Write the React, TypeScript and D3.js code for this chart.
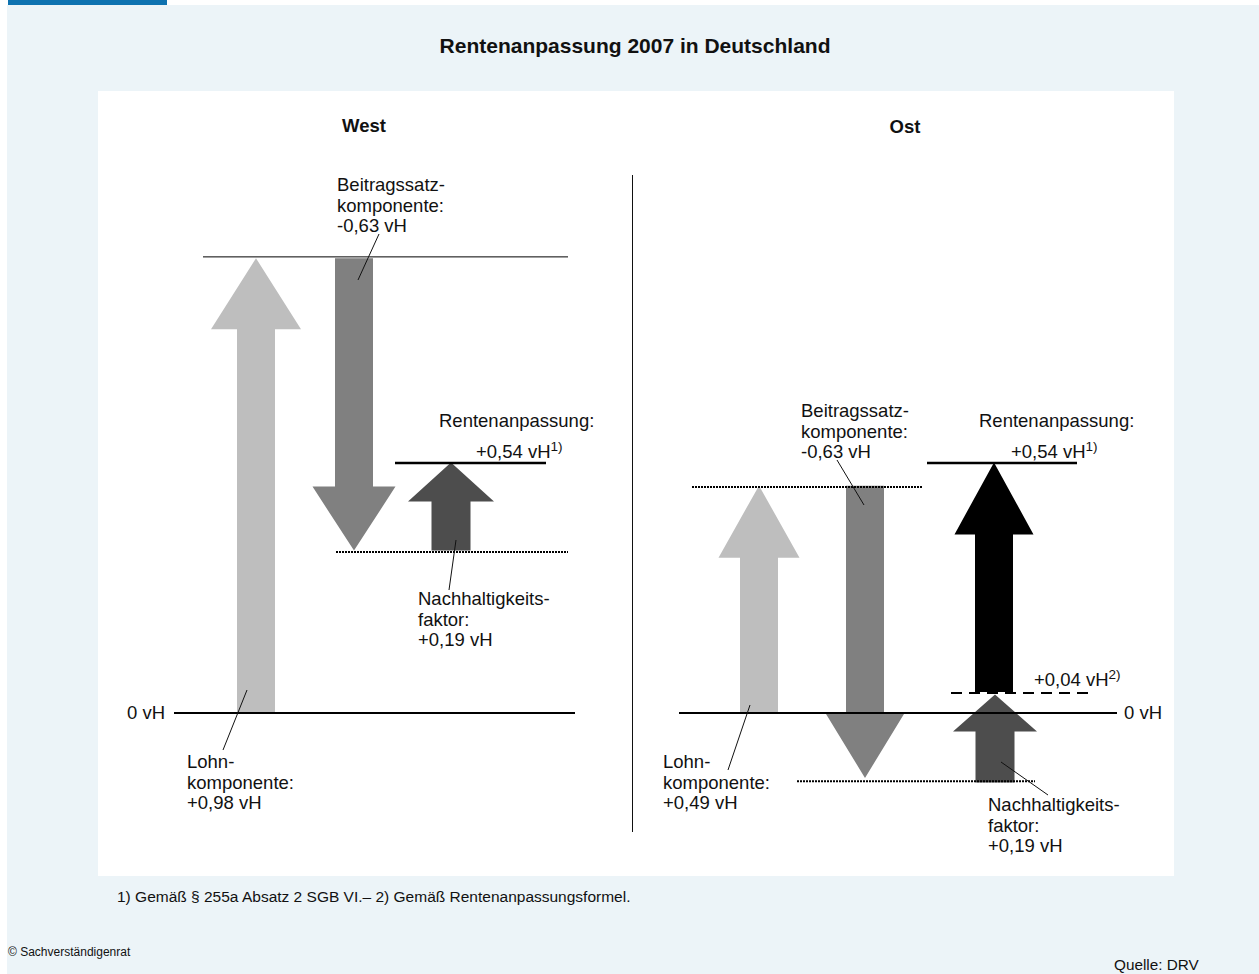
import React from "react";
import * as d3 from "d3";

// ---- data (values in vH) ----
const title = "Rentenanpassung 2007 in Deutschland";
const panels = ["West", "Ost"];
const westComponents = ["Lohnkomponente", "Beitragssatzkomponente", "Nachhaltigkeitsfaktor"];
const westStart = [0, 0.98, 0.35];
const westEnd = [0.98, 0.35, 0.54];
const ostComponents = ["Lohnkomponente", "Beitragssatzkomponente", "Nachhaltigkeitsfaktor", "Rentenanpassung"];
const ostStart = [0, 0.49, -0.15, 0.045];
const ostEnd = [0.49, -0.14, 0.04, 0.54];
const westRefValues = [0.983, 0.347, 0.539];
const ostRefValues = [0.487, -0.147, 0.539, 0.043];
const zeroLabel = "0 vH";
const footnote = "1) Gemäß § 255a Absatz 2 SGB VI.– 2) Gemäß Rentenanpassungsformel.";
const copyright = "© Sachverständigenrat";
const source = "Quelle: DRV";

// ---- layout / styles ----
const W = 1259;
const H = 974;
const FONT = "'Liberation Sans', Arial, Helvetica, sans-serif";
const y = d3.scaleLinear().domain([0, 1]).range([713, 249]);

const westX = [256, 354, 451];
const westShaft = [38, 38, 39];
const westHeadW = [90, 83, 86];
const westHeadH = [71, 64, 39];
const westFill = ["#bebebe", "#808080", "#4d4d4d"];

const ostX = [759, 865, 995, 994];
const ostShaft = [38, 38, 39, 38];
const ostHeadW = [81, 78, 84, 79];
const ostHeadH = [72, 64, 37, 72];
const ostFill = ["#bebebe", "#808080", "#4d4d4d", "#000000"];

function arrowPath(cx: number, v0: number, v1: number, sw: number, hw: number, hh: number) {
  const y0 = y(v0);
  const y1 = y(v1);
  const dir = y1 < y0 ? 1 : -1;
  const yb = y1 + dir * hh;
  const p = d3.path();
  p.moveTo(cx - sw / 2, y0);
  p.lineTo(cx - sw / 2, yb);
  p.lineTo(cx - hw / 2, yb);
  p.lineTo(cx, y1);
  p.lineTo(cx + hw / 2, yb);
  p.lineTo(cx + sw / 2, yb);
  p.lineTo(cx + sw / 2, y0);
  p.closePath();
  return p.toString();
}

type Lbl = { x: number; y: number; lines: string[]; sup?: string };

const LH = 20.5;

function Label({ x, y: yy, lines, sup }: Lbl) {
  return (
    <text x={x} y={yy} fontSize={18.5} fontFamily={FONT} fill="#111">
      {lines.map((l, i) => (
        <tspan key={i} x={x} y={yy + i * LH}>
          {l}
        </tspan>
      ))}
      {sup ? (
        <tspan fontSize={13.5} dy={-7}>
          {sup}
        </tspan>
      ) : null}
    </text>
  );
}

export default function App() {
  const westRefStyles = [
    { x1: 203, x2: 568, w: 1, dash: undefined },
    { x1: 336, x2: 568, w: 2, dash: "2 1" },
    { x1: 395, x2: 546, w: 2.5, dash: undefined },
  ];
  const ostRefStyles = [
    { x1: 692, x2: 922, w: 2, dash: "2 1" },
    { x1: 797, x2: 1035, w: 2, dash: "2 1" },
    { x1: 927, x2: 1077, w: 2.5, dash: undefined },
    { x1: 951, x2: 1092, w: 2, dash: "11 7" },
  ];
  const leaders = [
    [379, 234, 358, 280],
    [456, 540, 449, 590],
    [247, 690, 223, 750],
    [837, 460, 864, 505],
    [750, 705, 728, 770],
    [1001, 762, 1048, 795],
  ];
  return (
    <svg
      width={W}
      height={H}
      viewBox={`0 0 ${W} ${H}`}
      style={{ position: "absolute", left: 0, top: 0, display: "block" }}
    >
      <rect x={0} y={0} width={W} height={H} fill="#ffffff" />
      <rect x={7} y={5} width={W - 7} height={H - 5} fill="#ecf4f8" />
      <rect x={8} y={0} width={159} height={5} fill="#0e72b0" />
      <rect x={98} y={91} width={1076} height={785} fill="#ffffff" />

      <text x={635} y={53} textAnchor="middle" fontSize={21} fontWeight="bold" fontFamily={FONT} fill="#111">
        {title}
      </text>
      <text x={364} y={132} textAnchor="middle" fontSize={18.5} fontWeight="bold" fontFamily={FONT} fill="#111">
        {panels[0]}
      </text>
      <text x={905} y={133} textAnchor="middle" fontSize={18.5} fontWeight="bold" fontFamily={FONT} fill="#111">
        {panels[1]}
      </text>

      <line x1={632.5} x2={632.5} y1={175} y2={832} stroke="#111" strokeWidth={1} />

      {westComponents.map((c, i) => (
        <path
          key={"w" + c}
          d={arrowPath(westX[i], westStart[i], westEnd[i], westShaft[i], westHeadW[i], westHeadH[i])}
          fill={westFill[i]}
        />
      ))}
      {ostComponents.map((c, i) => (
        <path
          key={"o" + c}
          d={arrowPath(ostX[i], ostStart[i], ostEnd[i], ostShaft[i], ostHeadW[i], ostHeadH[i])}
          fill={ostFill[i]}
        />
      ))}

      <line x1={174} x2={575} y1={y(0)} y2={y(0)} stroke="#000" strokeWidth={2} />
      <line x1={679} x2={1117} y1={y(0)} y2={y(0)} stroke="#000" strokeWidth={2} />

      {westRefValues.map((v, i) => (
        <line
          key={"wr" + i}
          x1={westRefStyles[i].x1}
          x2={westRefStyles[i].x2}
          y1={y(v)}
          y2={y(v)}
          stroke="#000"
          strokeWidth={westRefStyles[i].w}
          strokeDasharray={westRefStyles[i].dash}
        />
      ))}
      {ostRefValues.map((v, i) => (
        <line
          key={"or" + i}
          x1={ostRefStyles[i].x1}
          x2={ostRefStyles[i].x2}
          y1={y(v)}
          y2={y(v)}
          stroke="#000"
          strokeWidth={ostRefStyles[i].w}
          strokeDasharray={ostRefStyles[i].dash}
        />
      ))}

      {leaders.map((l, i) => (
        <line key={"ld" + i} x1={l[0]} y1={l[1]} x2={l[2]} y2={l[3]} stroke="#111" strokeWidth={1} />
      ))}

      <text x={165} y={719} textAnchor="end" fontSize={18.5} fontFamily={FONT} fill="#111">
        {zeroLabel}
      </text>
      <text x={1124} y={719} fontSize={18.5} fontFamily={FONT} fill="#111">
        {zeroLabel}
      </text>

      <Label x={337} y={191} lines={["Beitragssatz-", "komponente:", "-0,63 vH"]} />
      <Label x={439} y={427} lines={["Rentenanpassung:"]} />
      <Label x={476} y={458} lines={["+0,54 vH"]} sup="1)" />
      <Label x={418} y={605} lines={["Nachhaltigkeits-", "faktor:", "+0,19 vH"]} />
      <Label x={187} y={768} lines={["Lohn-", "komponente:", "+0,98 vH"]} />

      <Label x={801} y={417} lines={["Beitragssatz-", "komponente:", "-0,63 vH"]} />
      <Label x={979} y={427} lines={["Rentenanpassung:"]} />
      <Label x={1011} y={458} lines={["+0,54 vH"]} sup="1)" />
      <Label x={1034} y={686} lines={["+0,04 vH"]} sup="2)" />
      <Label x={663} y={768} lines={["Lohn-", "komponente:", "+0,49 vH"]} />
      <Label x={988} y={811} lines={["Nachhaltigkeits-", "faktor:", "+0,19 vH"]} />

      <text x={117} y={902} fontSize={15.5} fontFamily={FONT} fill="#111">
        {footnote}
      </text>
      <text x={8} y={956} fontSize={12} fontFamily={FONT} fill="#111">
        {copyright}
      </text>
      <text x={1114} y={970} fontSize={15.3} fontFamily={FONT} fill="#111">
        {source}
      </text>
    </svg>
  );
}
